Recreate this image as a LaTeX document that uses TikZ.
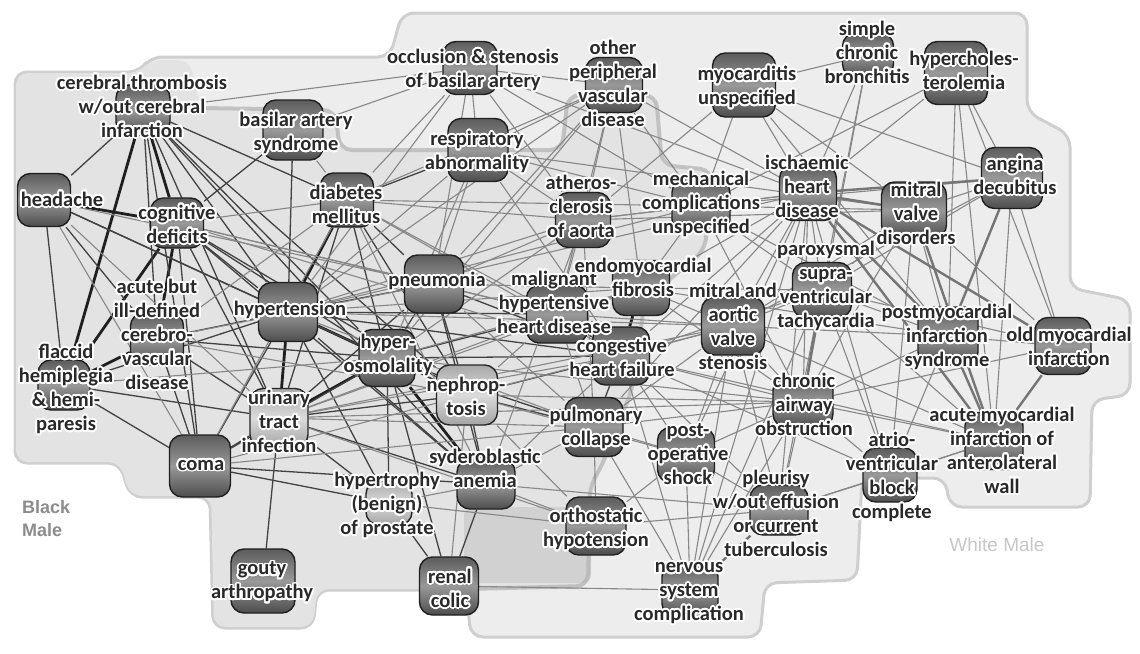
\documentclass[tikz,border=0pt]{standalone}
\usepackage{fontspec}
\newfontfamily\lblfont{Carlito}
\newfontfamily\regfont{Liberation Sans}
\usepackage[copies]{contour}
\contourlength{1.8pt}
\contournumber{24}
\newcommand{\cw}[1]{\contour{white}{#1}}
\pgfdeclarelayer{bg}
\pgfdeclarelayer{edges}
\pgfsetlayers{bg,edges,main}
\tikzset{
  nbox/.style 2 args={draw=black!88, line width=1.4pt, rounded corners=13pt,
    minimum width=#1pt, minimum height=#2pt, inner sep=0pt,
    top color=black!64, bottom color=black!70, middle color=black!40},
  lbox/.style 2 args={draw=black!85, line width=1.4pt, rounded corners=13pt,
    minimum width=#1pt, minimum height=#2pt, inner sep=0pt,
    top color=black!34, bottom color=black!36, middle color=black!14},
  lab/.style={inner sep=0pt, align=center, text=black!84,
    font=\lblfont\bfseries\fontsize{20.5}{24}\selectfont},
  grp/.style={inner sep=0pt, align=left, font=\regfont\bfseries\fontsize{18}{23}\selectfont},
  ed/.style={draw=black!88, line width=2.8pt},
  em/.style={draw=black!74, line width=1.3pt},
  el/.style={draw=black!47, line width=1.1pt},
  eg/.style={draw=black!54, line width=2.4pt},
  region/.style={rounded corners=12pt}
}
\begin{document}
\begin{tikzpicture}[x=1pt,y=-1pt]
\useasboundingbox (0,0) rectangle (1140,653);
% ---------- background regions ----------
\begin{pgfonlayer}{bg}
\fill[white] (0,0) rectangle (1140,653);
\draw[region, fill=gray!14, draw=gray!38, line width=3pt]
  (150,57) -- (390,57) -- (402,13) -- (1027,13) -- (1027,112) -- (1070,135)
  -- (1070,288) -- (1130,300) -- (1130,395) -- (1092,400) -- (1090,507)
  -- (950,507) -- (945,478) -- (862,478) -- (857,580) -- (765,583)
  -- (760,637) -- (471,637) -- (466,590) -- (317,590) -- (313,628)
  -- (213,628) -- (210,497) -- (130,497) -- (120,463) -- (15,463)
  -- (15,72) -- (140,72) -- cycle;
\fill[region, gray!22]
  (16,73) -- (140,73) -- (150,60) -- (190,60) -- (200,108) -- (335,110)
  -- (340,150) -- (562,150) -- (568,95) -- (656,95) -- (662,165)
  -- (712,170) -- (705,250) -- (645,300) -- (632,390) -- (600,470)
  -- (590,485) -- (588,589) -- (317,589) -- (313,627) -- (214,627)
  -- (211,496) -- (130,496) -- (120,462) -- (16,462) -- cycle;
\fill[rounded corners=8pt, gray!36] (464,507) rectangle (591,583);
\draw[rounded corners=12pt, draw=gray!60, line width=4pt, opacity=0.7, line cap=round]
  (200,108) -- (335,110) -- (340,150) -- (562,150) -- (568,95) -- (656,95)
  -- (662,165) -- (712,170) -- (705,250) -- (645,300) -- (632,390)
  -- (600,470) -- (590,485) -- (588,586) -- (466,589);
\end{pgfonlayer}
% ---------- boxes ----------
\node[nbox={54}{50}] (ct) at (143,110) {};
\node[nbox={60}{60}] (bas) at (293,130) {};
\node[nbox={53}{53}] (hd) at (44,200) {};
\node[nbox={53}{50}] (cog) at (177,223) {};
\node[nbox={53}{54}] (dm) at (347,200) {};
\node[nbox={59}{59}] (ht) at (288,312) {};
\node[nbox={53}{52}] (acd) at (157,339) {};
\node[nbox={52}{50}] (fl) at (64,385) {};
\node[nbox={61}{62}] (coma) at (200,466) {};
\node[lbox={58}{59}] (uti) at (279,418) {};
\node[nbox={64}{64}] (gout) at (263,581) {};
\node[lbox={46}{44}] (hyp) at (389,503) {};
\node[nbox={59}{58}] (rc) at (449,586) {};
\node[nbox={58}{50}] (sa) at (486,484) {};
\node[nbox={56}{57}] (hos) at (387,358) {};
\node[lbox={61}{60}] (nep) at (467,395) {};
\node[nbox={59}{58}] (pn) at (434,284) {};
\node[nbox={61}{58}] (mhhd) at (557,314) {};
\node[nbox={57}{55}] (emf) at (641,288) {};
\node[nbox={57}{58}] (chf) at (621,356) {};
\node[nbox={58}{59}] (pc) at (594,427) {};
\node[nbox={63}{58}] (mavs) at (733,326) {};
\node[nbox={59}{55}] (psvt) at (822,290) {};
\node[nbox={60}{50}] (cao) at (803,402) {};
\node[nbox={57}{55}] (pos) at (686,455) {};
\node[nbox={60}{58}] (oh) at (596,526) {};
\node[nbox={56}{53}] (nsc) at (690,590) {};
\node[nbox={58}{50}] (pl) at (779,510) {};
\node[nbox={54}{54}] (avb) at (890,475) {};
\node[nbox={58}{57}] (ami) at (994,441) {};
\node[nbox={60}{58}] (pmi) at (948,336) {};
\node[nbox={56}{57}] (omi) at (1063,346) {};
\node[nbox={65}{56}] (mvd) at (914,210) {};
\node[nbox={57}{55}] (ihd) at (808,193) {};
\node[nbox={61}{61}] (ad) at (1012,178) {};
\node[nbox={63}{63}] (hc) at (956,73) {};
\node[nbox={51}{44}] (scb) at (868,55) {};
\node[nbox={63}{64}] (myo) at (744,85) {};
\node[nbox={57}{55}] (opvd) at (614,85) {};
\node[nbox={54}{53}] (occ) at (470,68) {};
\node[nbox={60}{63}] (ra) at (478,150) {};
\node[nbox={55}{55}] (ath) at (583,220) {};
\node[nbox={58}{53}] (mech) at (701,206) {};
% ---------- edges ----------
\begin{pgfonlayer}{edges}
\foreach \a/\b in {ct/fl, ct/cog, hd/cog, cog/fl, cog/acd, acd/fl, uti/ht, uti/hos,
  ht/dm, ht/hos, hos/sa, emf/chf}
  \draw[ed] (\a) -- (\b);
\foreach \a/\b in {ct/hd, ct/acd, ct/coma, ct/uti, ct/ht, ct/hos, ct/dm, ct/sa, ct/nep,
  hd/fl, hd/acd, hd/ht, hd/hos,
  cog/bas, cog/ht, cog/hos, cog/coma, cog/uti, cog/nep, cog/sa,
  acd/coma, acd/uti, acd/ht, acd/hos,
  fl/coma, fl/uti, fl/ht,
  coma/uti, coma/ht, coma/hos, coma/hyp, coma/sa,
  uti/gout, uti/nep, uti/sa, uti/hyp, uti/pn, uti/dm,
  ht/bas, ht/pn, ht/nep, ht/sa, ht/mhhd, ht/chf, ht/hyp,
  hos/dm, hos/pn, hos/nep, hos/rc, hos/hyp, hos/mhhd, hos/chf, hos/pc,
  dm/pn, dm/ra, dm/nep,
  pn/nep, pn/sa, pn/chf,
  nep/sa, nep/pc, nep/chf,
  sa/rc, hyp/rc, mhhd/chf, chf/pc}
  \draw[em] (\a) -- (\b);
\foreach \a/\b in {ct/occ, hd/uti, hd/coma, hd/pn, cog/dm, cog/pn, cog/mhhd, cog/chf,
  acd/pn, acd/nep, acd/dm, fl/hos, coma/nep, coma/pc, coma/dm,
  uti/pc, uti/chf, uti/mhhd, uti/oh, uti/emf, uti/cao, uti/mavs,
  ht/emf, ht/ath, ht/ra, ht/occ, ht/opvd, ht/mech, ht/pc, ht/ihd, ht/mavs,
  hos/emf, hos/ath, hos/ra, hos/opvd, hos/cao,
  dm/bas, dm/occ, dm/opvd, dm/mhhd, dm/sa, dm/chf, dm/ath, dm/mech,
  pn/ra, pn/mhhd, pn/pc, pn/occ, pn/opvd, pn/emf, pn/ath,
  nep/mhhd, nep/rc, nep/oh, nep/cao, nep/mavs, nep/pos,
  sa/hyp, sa/pc, sa/oh, sa/chf, sa/pl, sa/ath, hyp/oh, rc/nsc,
  mhhd/emf, mhhd/opvd, mhhd/ath, mhhd/mavs, mhhd/pc,
  emf/mech, emf/mavs, emf/ihd, emf/psvt, emf/cao, emf/opvd, emf/pmi,
  chf/mavs, chf/cao, chf/ihd, chf/pos, chf/pl, chf/ami, chf/psvt, chf/avb, chf/nsc,
  pc/oh, pc/pos, pc/cao, pc/mavs, pc/nsc, pc/ath, pc/ihd,
  occ/ra, occ/opvd, occ/mech, occ/ath, occ/bas, occ/ihd,
  ra/opvd, ra/ath, ra/mech, ra/chf, ra/mvd,
  opvd/ath, opvd/mech, opvd/ihd, myo/ath, myo/mvd, myo/ihd, myo/pmi, myo/ad, myo/mech,
  scb/ihd, scb/myo, scb/cao, scb/psvt,
  hc/ihd, hc/ad, hc/pmi, hc/ami, hc/mech, hc/omi,
  ath/mech, ath/ihd, ath/mvd, mech/ihd, mech/mvd, mech/psvt, mech/pmi, mech/cao, mech/ad,
  ihd/psvt, ihd/mavs, ihd/cao, ihd/avb, ihd/pl, ihd/pos, ihd/nsc,
  mvd/ad, mvd/pmi, mvd/omi, mvd/psvt, mvd/mavs, mvd/cao, mvd/avb,
  ad/ami, ad/omi, ad/psvt, ad/mavs,
  pmi/omi, pmi/psvt, pmi/cao, pmi/avb, pmi/mavs,
  omi/psvt, omi/cao, ami/avb, ami/cao, ami/psvt, ami/mavs, ami/pl,
  psvt/mavs, psvt/avb, psvt/pl, psvt/nsc,
  mavs/cao, mavs/pos, mavs/nsc, mavs/pl,
  cao/avb, cao/pl, cao/nsc, cao/pos,
  pos/nsc, pos/pl, avb/pl, oh/pl, oh/pos}
  \draw[el] (\a) -- (\b);
\foreach \a/\b in {ihd/mvd, ihd/ad, ihd/pmi, ihd/ami, ihd/omi, mvd/ami, ad/pmi,
  pmi/ami, omi/ami, psvt/cao, pl/nsc}
  \draw[eg] (\a) -- (\b);
\end{pgfonlayer}
% ---------- labels ----------
\node[lab] (ct-l) at (142,107) {\cw{cerebral thrombosis}\\\cw{w/out cerebral}\\\cw{infarction}};
\node[lab] (bas-l) at (296,134) {\cw{basilar artery}\\\cw{syndrome}};
\node[lab] (hd-l) at (62,200) {\cw{headache}};
\node[lab] (cog-l) at (177,225) {\cw{cognitive}\\\cw{deficits}};
\node[lab] (dm-l) at (346,205) {\cw{diabetes}\\\cw{mellitus}};
\node[lab] (ht-l) at (290,311) {\cw{hypertension}};
\node[lab] (acd-l) at (157,335) {\cw{acute but}\\\cw{ill-defined}\\\cw{cerebro-}\\\cw{vascular}\\\cw{disease}};
\node[lab] (fl-l) at (66,390) {\cw{flaccid}\\\cw{hemiplegia}\\\cw{\& hemi-}\\\cw{paresis}};
\node[lab] (coma-l) at (201,466) {\cw{coma}};
\node[lab] (uti-l) at (279,422) {\cw{urinary}\\\cw{tract}\\\cw{infection}};
\node[lab] (gout-l) at (262,583) {\cw{gouty}\\\cw{arthropathy}};
\node[lab] (hyp-l) at (387,506) {\cw{hypertrophy}\\\cw{(benign)}\\\cw{of prostate}};
\node[lab] (rc-l) at (450,589) {\cw{renal}\\\cw{colic}};
\node[lab] (sa-l) at (485,469) {\cw{syderoblastic}\\\cw{anemia}};
\node[lab] (hos-l) at (388,356) {\cw{hyper-}\\\cw{osmolality}};
\node[lab] (nep-l) at (466,397) {\cw{nephrop-}\\\cw{tosis}};
\node[lab] (pn-l) at (437,282) {\cw{pneumonia}};
\node[lab] (mhhd-l) at (554,303) {\cw{malignant}\\\cw{hypertensive}\\\cw{heart disease}};
\node[lab] (emf-l) at (643,278) {\cw{endomyocardial}\\\cw{fibrosis}};
\node[lab] (chf-l) at (622,358) {\cw{congestive}\\\cw{heart failure}};
\node[lab] (pc-l) at (596,429) {\cw{pulmonary}\\\cw{collapse}};
\node[lab] (mavs-l) at (733,327) {\cw{mitral and}\\\cw{aortic}\\\cw{valve}\\\cw{stenosis}};
\node[lab] (psvt-l) at (826,287) {\cw{paroxysmal}\\\cw{supra-}\\\cw{ventricular}\\\cw{tachycardia}};
\node[lab] (cao-l) at (804,405) {\cw{chronic}\\\cw{airway}\\\cw{obstruction}};
\node[lab] (pos-l) at (688,455) {\cw{post-}\\\cw{operative}\\\cw{shock}};
\node[lab] (oh-l) at (596,530) {\cw{orthostatic}\\\cw{hypotension}};
\node[lab] (nsc-l) at (689,594) {\cw{nervous}\\\cw{system}\\\cw{complication}};
\node[lab] (pl-l) at (776,514) {\cw{pleurisy}\\\cw{w/out effusion}\\\cw{or current}\\\cw{tuberculosis}};
\node[lab] (avb-l) at (892,478) {\cw{atrio-}\\\cw{ventricular}\\\cw{block}\\\cw{complete}};
\node[lab] (ami-l) at (1002,451) {\cw{acute myocardial}\\\cw{infarction of}\\\cw{anterolateral}\\\cw{wall}};
\node[lab] (pmi-l) at (947,338) {\cw{postmyocardial}\\\cw{infarction}\\\cw{syndrome}};
\node[lab] (omi-l) at (1069,347) {\cw{old myocardial}\\\cw{infarction}};
\node[lab] (mvd-l) at (916,214) {\cw{mitral}\\\cw{valve}\\\cw{disorders}};
\node[lab] (ihd-l) at (807,187) {\cw{ischaemic}\\\cw{heart}\\\cw{disease}};
\node[lab] (ad-l) at (1015,176) {\cw{angina}\\\cw{decubitus}};
\node[lab] (hc-l) at (964,71) {\cw{hypercholes-}\\\cw{terolemia}};
\node[lab] (scb-l) at (867,53) {\cw{simple}\\\cw{chronic}\\\cw{bronchitis}};
\node[lab] (myo-l) at (747,88) {\cw{myocarditis}\\\cw{unspecified}};
\node[lab] (opvd-l) at (613,84) {\cw{other}\\\cw{peripheral}\\\cw{vascular}\\\cw{disease}};
\node[lab] (occ-l) at (473,71) {\cw{occlusion \& stenosis}\\\cw{of basilar artery}};
\node[lab] (ra-l) at (477,153) {\cw{respiratory}\\\cw{abnormality}};
\node[lab] (ath-l) at (581,207) {\cw{atheros-}\\\cw{clerosis}\\\cw{of aorta}};
\node[lab] (mech-l) at (701,205) {\cw{mechanical}\\\cw{complications}\\\cw{unspecified}};
% ---------- group names ----------
\node[grp, text=black!45, anchor=west] (bm) at (22,519) {Black\\Male};
\node[grp, text=black!22, font=\regfont\fontsize{19}{23}\selectfont] (wm) at (997,545) {White Male};
\end{tikzpicture}
\end{document}
